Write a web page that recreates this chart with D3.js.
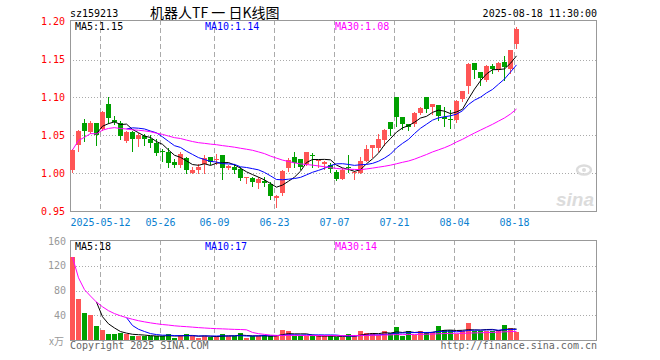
<!DOCTYPE html>
<html>
<head>
<meta charset="utf-8">
<script src="https://cdn.jsdelivr.net/npm/d3@7"></script>
<style>
  body { margin: 0; background: #fff; }
  svg { display: block; }
  text { font-family: "DejaVu Sans Mono", "Liberation Mono", monospace; font-size: 10px; white-space: pre; }
</style>
</head>
<body>
<svg id="chart" width="660" height="360"></svg>
<script>
const dates = [
  '04-30', '05-06', '05-07', '05-08', '05-09', '05-12', '05-13', '05-14', '05-15', '05-16',
  '05-19', '05-20', '05-21', '05-22', '05-23', '05-26', '05-27', '05-28', '05-29', '05-30',
  '06-03', '06-04', '06-05', '06-06', '06-09', '06-10', '06-11', '06-12', '06-13', '06-16',
  '06-17', '06-18', '06-19', '06-20', '06-23', '06-24', '06-25', '06-26', '06-27', '06-30',
  '07-01', '07-02', '07-03', '07-04', '07-07', '07-08', '07-09', '07-10', '07-11', '07-14',
  '07-15', '07-16', '07-17', '07-18', '07-21', '07-22', '07-23', '07-24', '07-25', '07-28',
  '07-29', '07-30', '07-31', '08-01', '08-04', '08-05', '08-06', '08-07', '08-08', '08-11',
  '08-12', '08-13', '08-14', '08-15', '08-18'
];
const open = [
  1.005, 1.038, 1.066, 1.054, 1.066, 1.058, 1.092, 1.071, 1.067, 1.043,
  1.054, 1.046, 1.049, 1.046, 1.040, 1.030, 1.028, 1.015, 1.011, 1.020,
  1.001, 1.004, 1.013, 1.022, 1.018, 1.024, 1.007, 1.008, 1.006, 0.994,
  0.994, 0.988, 0.990, 0.986, 0.968, 0.974, 1.007, 1.022, 1.019, 1.012,
  1.025, 1.017, 1.012, 1.011, 1.002, 0.993, 1.009, 1.000, 1.001, 1.017,
  1.033, 1.033, 1.044, 1.068, 1.101, 1.074, 1.065, 1.065, 1.079, 1.100,
  1.087, 1.090, 1.074, 1.072, 1.071, 1.098, 1.115, 1.145, 1.133, 1.123,
  1.141, 1.136, 1.147, 1.138, 1.171
];
const high = [
  1.032, 1.057, 1.072, 1.069, 1.066, 1.082, 1.100, 1.076, 1.069, 1.056,
  1.056, 1.053, 1.052, 1.050, 1.045, 1.032, 1.033, 1.019, 1.028, 1.022,
  1.009, 1.013, 1.024, 1.022, 1.026, 1.024, 1.011, 1.013, 1.008, 0.996,
  0.996, 0.995, 0.995, 0.989, 0.972, 1.004, 1.021, 1.028, 1.019, 1.028,
  1.027, 1.018, 1.017, 1.014, 1.004, 1.007, 1.024, 1.003, 1.022, 1.037,
  1.037, 1.052, 1.059, 1.068, 1.101, 1.074, 1.065, 1.081, 1.088, 1.101,
  1.091, 1.090, 1.087, 1.084, 1.097, 1.109, 1.145, 1.145, 1.133, 1.143,
  1.144, 1.147, 1.154, 1.162, 1.193
];
const low = [
  1.002, 1.030, 1.043, 1.053, 1.038, 1.057, 1.067, 1.065, 1.045, 1.042,
  1.029, 1.036, 1.037, 1.035, 1.024, 1.017, 1.008, 1.008, 1.008, 1.000,
  1.000, 1.000, 1.000, 1.012, 1.013, 0.993, 1.006, 1.000, 0.992, 0.987,
  0.983, 0.981, 0.984, 0.967, 0.956, 0.972, 1.003, 1.008, 1.006, 1.011,
  1.008, 1.008, 1.006, 1.002, 0.991, 0.993, 1.002, 0.993, 1.000, 1.016,
  1.022, 1.030, 1.038, 1.051, 1.063, 1.059, 1.057, 1.062, 1.078, 1.081,
  1.078, 1.070, 1.063, 1.060, 1.068, 1.096, 1.106, 1.126, 1.116, 1.122,
  1.132, 1.135, 1.123, 1.132, 1.165
];
const close = [
  1.031, 1.056, 1.056, 1.067, 1.051, 1.081, 1.073, 1.068, 1.049, 1.054,
  1.046, 1.051, 1.046, 1.040, 1.027, 1.028, 1.014, 1.011, 1.026, 1.004,
  1.004, 1.009, 1.021, 1.015, 1.019, 1.007, 1.010, 1.005, 0.994, 0.995,
  0.989, 0.993, 0.987, 0.970, 0.971, 1.003, 1.018, 1.014, 1.009, 1.028,
  1.023, 1.018, 1.015, 1.006, 0.993, 1.005, 1.008, 1.002, 1.017, 1.032,
  1.037, 1.046, 1.057, 1.058, 1.074, 1.065, 1.061, 1.079, 1.086, 1.085,
  1.091, 1.076, 1.072, 1.070, 1.096, 1.109, 1.144, 1.136, 1.125, 1.141,
  1.137, 1.145, 1.140, 1.162, 1.190
];
// volume, 万
const volume = [
  134, 67, 43, 40, 22, 16, 9.6, 9.6, 11, 9.5,
  6.4, 6.4, 6.4, 6.4, 6.4, 6.4, 9.6, 3.2, 8, 9.6,
  6.4, 3.2, 6.4, 5, 6.4, 9.6, 6.4, 6.4, 11, 3.2,
  6.4, 6.4, 8, 6.4, 6.4, 16, 14.4, 6.4, 6.4, 6.4,
  6.4, 6.4, 6.4, 6.4, 4.8, 4.8, 9.6, 6.4, 14.4, 11.2,
  11.2, 8, 14.4, 11.2, 20.8, 6.4, 14.4, 8, 14.4, 12.8,
  12.8, 22.4, 16, 16, 9.6, 14.4, 27.2, 14.4, 14.4, 14.4,
  15.2, 16.8, 24, 19.2, 12.8
];
const priceTicks = [0.95, 1.00, 1.05, 1.10, 1.15, 1.20];
const volTicks = [40, 80, 120, 160];
const dateTicks = ['05-12', '05-26', '06-09', '06-23', '07-07', '07-21', '08-04', '08-18'];
const dateLabels = ['2025-05-12', '05-26', '06-09', '06-23', '07-07', '07-21', '08-04', '08-18'];

const RED = '#ff5555', GREEN = '#00a000', GRID = '#aaa', FRAME = '#999';
const svg = d3.select('#chart');

const n = dates.length;
const x = d3.scaleLinear().domain([0, n]).range([70, 70 + 6 * n]);
const y = d3.scaleLinear().domain([0.95, 1.20]).range([211.5, 21.5]);
const yv = d3.scaleLinear().domain([0, 160]).range([340, 241]);
const L = 70, R = 597;

// moving averages (MA30 uses what is available at the start)
function ma(arr, k, partial) {
  return arr.map((d, i) => {
    if (i < k - 1 && !partial) return null;
    const s = arr.slice(Math.max(0, i - k + 1), i + 1);
    return d3.mean(s);
  });
}
const up = close.map((c, i) => c >= open[i]);

function panel(top, bottom, hTicks, yScale) {
  const g = svg.append('g');
  g.selectAll('line.h').data(hTicks).join('line')
    .attr('x1', L).attr('x2', R)
    .attr('y1', d => Math.round(yScale(d)) + 0.5).attr('y2', d => Math.round(yScale(d)) + 0.5)
    .attr('stroke', GRID).attr('stroke-dasharray', '1,2');
  g.selectAll('line.v').data(dateTicks).join('line')
    .attr('x1', d => x(dates.indexOf(d)) + 0.5).attr('x2', d => x(dates.indexOf(d)) + 0.5)
    .attr('y1', top).attr('y2', bottom)
    .attr('stroke', GRID).attr('stroke-dasharray', '5,3');
  g.append('rect').attr('x', L + 0.5).attr('y', top + 0.5)
    .attr('width', R - L - 1).attr('height', bottom - top)
    .attr('fill', 'none').attr('stroke', FRAME);
}

panel(20, 211, [1.00, 1.05, 1.10, 1.15], y);
panel(240, 340, [40, 80, 120], yv);

// sina watermark
const wm = svg.append('g').attr('fill', '#dcdcdc');
wm.append('text').attr('x', 556).attr('y', 206)
  .style('font-family', 'Liberation Sans, Arial, sans-serif')
  .style('font-size', '19px').style('font-style', 'italic').style('font-weight', 'bold')
  .text('sina');
wm.append('ellipse').attr('cx', 584).attr('cy', 170).attr('rx', 7).attr('ry', 4.5)
  .attr('fill', 'none').attr('stroke', '#dcdcdc').attr('stroke-width', 2.5);
wm.append('circle').attr('cx', 584).attr('cy', 170).attr('r', 2);

// candles
const idx = d3.range(n);
const candles = svg.append('g');
candles.selectAll('line').data(idx).join('line')
  .attr('x1', i => x(i) + 2.5).attr('x2', i => x(i) + 2.5)
  .attr('y1', i => Math.round(y(high[i]))).attr('y2', i => Math.round(y(low[i])) + 1)
  .attr('stroke', i => up[i] ? RED : GREEN);
candles.selectAll('rect').data(idx).join('rect')
  .attr('x', i => x(i))
  .attr('y', i => Math.round(y(Math.max(open[i], close[i]))))
  .attr('width', 5)
  .attr('height', i => Math.max(1, Math.round(y(Math.min(open[i], close[i]))) - Math.round(y(Math.max(open[i], close[i])))))
  .attr('fill', i => up[i] ? RED : GREEN);

// volume bars
svg.append('g').selectAll('rect').data(idx).join('rect')
  .attr('x', i => x(i))
  .attr('y', i => Math.round(yv(volume[i])))
  .attr('width', 5)
  .attr('height', i => 340 - Math.round(yv(volume[i])))
  .attr('fill', i => up[i] ? RED : GREEN);

function maLines(arr, yScale) {
  const series = [
    { v: ma(arr, 5), c: '#000' },
    { v: ma(arr, 10), c: '#0000ff' },
    { v: ma(arr, 30, true), c: '#ff00ff' }
  ];
  series.forEach(s => {
    svg.append('path')
      .datum(s.v)
      .attr('fill', 'none').attr('stroke', s.c).attr('stroke-width', 1)
      .attr('d', d3.line().defined(d => d != null)
        .x((d, i) => x(i) + 2.5).y(d => yScale(d)));
  });
  return series.map(s => s.v[n - 1]);
}
const pm = maLines(close, y);
const vm = maLines(volume, yv);

// axis labels
svg.append('g').selectAll('text').data(priceTicks).join('text')
  .attr('x', 65).attr('y', d => y(d) + 3.5).attr('text-anchor', 'end')
  .attr('fill', '#ff0000').text(d => d.toFixed(2));
svg.append('g').selectAll('text').data(volTicks).join('text')
  .attr('x', 66).attr('y', d => yv(d) + 3.5).attr('text-anchor', 'end')
  .attr('fill', '#999').text(d => d);
svg.append('text').attr('x', 64).attr('y', 345).attr('text-anchor', 'end')
  .attr('fill', '#999').style('font-family', '"Noto Sans CJK SC", sans-serif').style('font-size', '10px').text('x万');
svg.append('g').selectAll('text').data(dateTicks).join('text')
  .attr('x', d => x(dates.indexOf(d)) + 0.5).attr('y', 225.5).attr('text-anchor', 'middle')
  .attr('fill', '#0a80d0').text((d, i) => dateLabels[i]);

// legends
const legend = (yy, vals, fmt) => {
  [['MA5:', 75, '#000'], ['MA10:', 205, '#0000ff'], ['MA30:', 335, '#ff00ff']].forEach((m, k) => {
    svg.append('text').attr('x', m[1]).attr('y', yy).attr('fill', m[2]).text(m[0] + fmt(vals[k]));
  });
};
legend(30, pm, v => v.toFixed(2));
legend(249.5, vm, v => Math.round(v));

// header and footer
svg.append('text').attr('x', 70).attr('y', 17).attr('fill', '#000').text('sz159213');
svg.append('text').attr('x', 150).attr('y', 18)
  .style('font-family', '"Noto Sans CJK SC", sans-serif').style('font-size', '14px')
  .attr('fill', '#000').text('机器人TF 一 日K线图');
svg.append('text').attr('x', 597).attr('y', 17).attr('text-anchor', 'end').attr('fill', '#000')
  .text('2025-08-18 11:30:00');
svg.append('text').attr('x', 70).attr('y', 349).attr('fill', '#666').text('Copyright 2025 SINA.COM');
svg.append('text').attr('x', 597).attr('y', 349).attr('text-anchor', 'end').attr('fill', '#666')
  .text('http://finance.sina.com.cn');
</script>
</body>
</html>
